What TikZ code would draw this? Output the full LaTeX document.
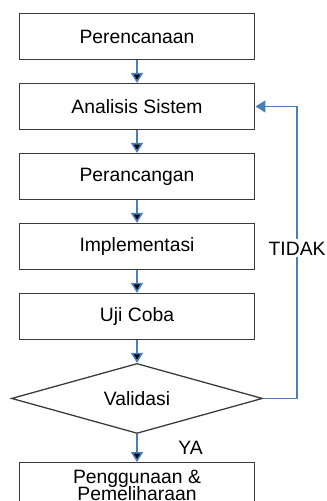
\documentclass[tikz,border=0pt]{standalone}
\usepackage{fontspec}
\setmainfont{Liberation Sans}
\usepackage{tikz}
\usetikzlibrary{
        arrows.meta,
        positioning,
        shapes,
        shapes.geometric
    }
\definecolor{flowblue}{HTML}{4A7EBB}
\definecolor{boxgray}{HTML}{3A3A3A}
\tikzset{>={Triangle[width=0.36cm,length=0.3cm]},node distance=0.69cm}
\tikzset{
    phase/.style={draw=boxgray,line width=1.1pt,rectangle,minimum width=7.07cm,
                  minimum height=1.37cm,align=center,
                  font=\fontsize{16.5}{18}\selectfont},
    check/.style={draw=boxgray,line width=1.1pt,diamond,inner sep=0pt,aspect=3.6,
                  minimum width=7.53cm,minimum height=2.1cm,
                  font=\fontsize{16.5}{18}\selectfont},
    flow/.style={->,draw=flowblue,line width=1.4pt}
}

\begin{document}
\begin{tikzpicture}[]
    \useasboundingbox (0,0) rectangle (9.81,-15.03);
        \node[phase] (plan) at (4.11,-1.095) {Perencanaan};
        \node[phase] (anl)  [below=of plan]  {Analisis Sistem};
        \node[phase] (des)  [below=of anl]   {Perancangan};
        \node[phase] (impl) [below=of des]   {Implementasi};
        \node[phase] (test) [below=of impl]  {Uji Coba};
        \node[check] (val)  [below=of test]  {Validasi};
        \node[phase] (use)  [below=0.84cm of val] {Penggunaan \&\\[-3pt] Pemeliharaan};
    \path[flow]
            (plan) edge (anl)
            (anl)  edge (des)
            (des)  edge (impl)
            (impl) edge (test)
            (test) edge (val)
            (val)  edge node[right=1.1cm,font=\fontsize{16.5}{18}\selectfont] {YA} (use)
            ;
    \draw[flow] (val.east) -- ++(1.02,0) |- node[pos=0.257,fill=white,inner sep=2pt,
            font=\fontsize{16.5}{18}\selectfont] {TIDAK} (anl.east);
\end{tikzpicture}
\end{document}
